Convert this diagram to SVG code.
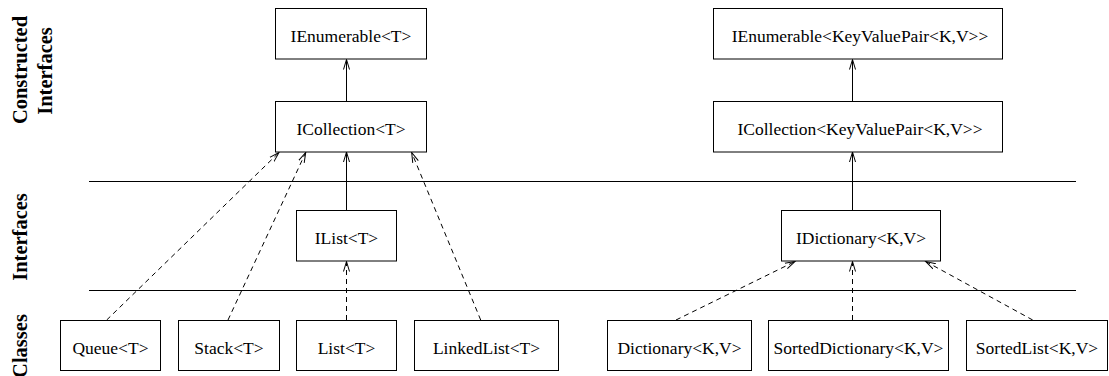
<svg xmlns="http://www.w3.org/2000/svg" width="1109" height="376" viewBox="0 0 1109 376">
<style>
.box{fill:#fff;stroke:#000;stroke-width:1}
.t{font-family:"Liberation Serif","Times New Roman",serif;font-size:17.5px;fill:#000;text-anchor:middle}
.side{font-family:"Liberation Serif","Times New Roman",serif;font-size:20.5px;font-weight:bold;fill:#000;text-anchor:middle}
.sep{stroke:#000;stroke-width:1;fill:none}
.solid{stroke:#000;stroke-width:1;fill:none;marker-end:url(#arr)}
.dash{stroke:#000;stroke-width:1;fill:none;stroke-dasharray:5 4;marker-end:url(#arr)}
</style>
<defs>
<marker id="arr" markerUnits="userSpaceOnUse" markerWidth="12" markerHeight="8" refX="10" refY="4" orient="auto">
<path d="M0,1 L10,4 L0,7" fill="none" stroke="#000" stroke-width="1"/>
</marker>
</defs>
<rect width="1109" height="376" fill="#fff"/>
<g id="labels">
<text class="side" transform="translate(27,70) rotate(-90)">Constructed</text>
<text class="side" transform="translate(52,71) rotate(-90)">Interfaces</text>
<text class="side" transform="translate(27,237) rotate(-90)">Interfaces</text>
<text class="side" transform="translate(27,346) rotate(-90)">Classes</text>
</g>
<g id="separators">
<line class="sep" x1="89" y1="181.5" x2="1076" y2="181.5"/>
<line class="sep" x1="89" y1="290.5" x2="1076" y2="290.5"/>
</g>
<g id="connectors">
<line class="solid" x1="346.5" y1="101" x2="346.5" y2="59.5"/>
<line class="solid" x1="346.5" y1="210.5" x2="346.5" y2="152"/>
<line class="dash" x1="106.7" y1="320" x2="279" y2="152.5"/>
<line class="dash" x1="228" y1="320" x2="305.7" y2="152.5"/>
<line class="dash" x1="346.5" y1="320" x2="346.5" y2="261.5"/>
<line class="dash" x1="480.7" y1="320" x2="411.7" y2="152.5"/>
<line class="solid" x1="852.5" y1="101" x2="852.5" y2="59.5"/>
<line class="solid" x1="852.5" y1="210.5" x2="852.5" y2="152"/>
<line class="dash" x1="676" y1="320" x2="795" y2="261.5"/>
<line class="dash" x1="852.5" y1="320" x2="852.5" y2="261.5"/>
<line class="dash" x1="1032.7" y1="320" x2="925.7" y2="261.5"/>
</g>
<g id="IEnumerableT"><rect class="box" x="275.5" y="8.5" width="151" height="50.5"/><text class="t" x="351" y="41.7">IEnumerable&lt;T&gt;</text></g>
<g id="ICollectionT"><rect class="box" x="275.5" y="101.5" width="151" height="50.5"/><text class="t" x="351" y="134.7">ICollection&lt;T&gt;</text></g>
<g id="IListT"><rect class="box" x="296.5" y="210.5" width="100" height="50.5"/><text class="t" x="346.5" y="243.7">IList&lt;T&gt;</text></g>
<g id="QueueT"><rect class="box" x="60.5" y="320.5" width="100" height="50"/><text class="t" x="110.5" y="353.5">Queue&lt;T&gt;</text></g>
<g id="StackT"><rect class="box" x="178.5" y="320.5" width="101" height="50"/><text class="t" x="229" y="353.5">Stack&lt;T&gt;</text></g>
<g id="ListT"><rect class="box" x="296.5" y="320.5" width="100" height="50"/><text class="t" x="346.5" y="353.5">List&lt;T&gt;</text></g>
<g id="LinkedListT"><rect class="box" x="414.5" y="320.5" width="144" height="50"/><text class="t" x="486.5" y="353.5">LinkedList&lt;T&gt;</text></g>
<g id="IEnumerableKVP"><rect class="box" x="713.5" y="8.5" width="289" height="50.5"/><text class="t" x="860" y="41.7">IEnumerable&lt;KeyValuePair&lt;K,V&gt;&gt;</text></g>
<g id="ICollectionKVP"><rect class="box" x="713.5" y="101.5" width="289" height="50.5"/><text class="t" x="860" y="134.7">ICollection&lt;KeyValuePair&lt;K,V&gt;&gt;</text></g>
<g id="IDictionaryKV"><rect class="box" x="781.5" y="210.5" width="159" height="50.5"/><text class="t" x="861" y="243.7">IDictionary&lt;K,V&gt;</text></g>
<g id="DictionaryKV"><rect class="box" x="607.5" y="320.5" width="144" height="50"/><text class="t" x="679.5" y="353.5">Dictionary&lt;K,V&gt;</text></g>
<g id="SortedDictionaryKV"><rect class="box" x="768.5" y="320.5" width="180" height="50"/><text class="t" x="858.5" y="353.5">SortedDictionary&lt;K,V&gt;</text></g>
<g id="SortedListKV"><rect class="box" x="966.5" y="320.5" width="141" height="50"/><text class="t" x="1037" y="353.5">SortedList&lt;K,V&gt;</text></g>
</svg>
